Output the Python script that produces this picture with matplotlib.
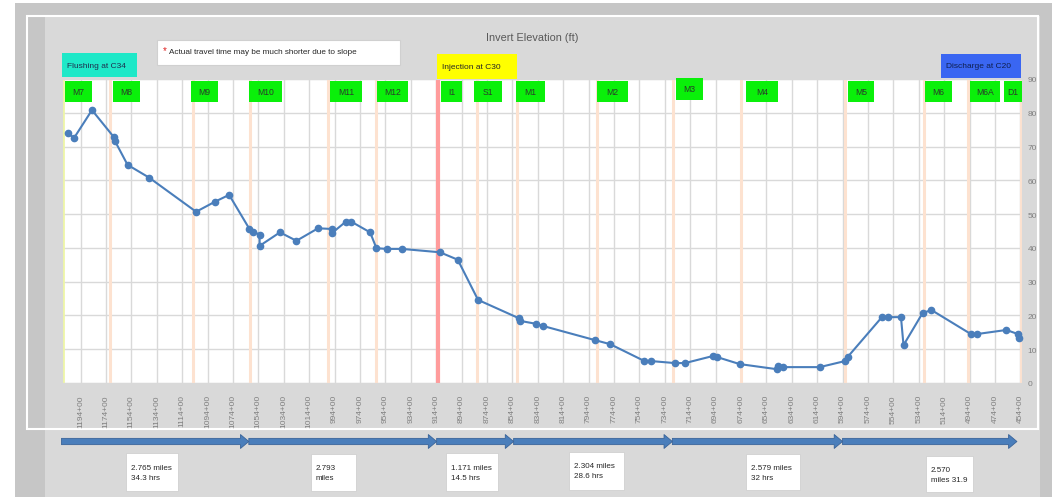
import matplotlib
matplotlib.use("Agg")
import matplotlib.pyplot as plt
import matplotlib.font_manager as fm
from matplotlib.patches import Rectangle, FancyArrowPatch, ArrowStyle
from matplotlib.transforms import blended_transform_factory

# ---------------- data ----------------
stations = [1204, 1199, 1185, 1168, 1167, 1157, 1140, 1103, 1088, 1077,
            1061, 1058, 1053, 1053, 1037, 1024, 1007, 996, 996, 985,
            981, 966, 961, 953, 941, 911, 897, 881, 849, 848,
            835, 830, 789, 777, 750, 745, 726, 718, 696, 693,
            675, 646, 645, 641, 612, 592, 590, 563, 558, 548,
            546, 531, 524, 493, 488, 465, 456, 455]
elevation = [73.9, 72.6, 80.8, 72.9, 71.7, 64.6, 60.8, 50.7, 53.7, 55.7,
             45.6, 44.8, 43.9, 40.6, 44.6, 42.1, 45.8, 45.6, 44.4, 47.8,
             47.8, 44.6, 39.9, 39.7, 39.7, 38.7, 36.5, 24.6, 19.2, 18.4,
             17.5, 16.9, 12.7, 11.5, 6.5, 6.5, 5.9, 5.9, 8.0, 7.7,
             5.6, 4.1, 5.0, 4.7, 4.7, 6.5, 7.7, 19.5, 19.5, 19.5,
             11.2, 20.7, 21.6, 14.5, 14.5, 15.7, 14.5, 13.3]

tick_stations = list(range(1194, 453, -20))
tick_labels = [f"{s}+00" for s in tick_stations]
y_ticks = list(range(0, 91, 10))

marker_names = ["M7", "M8", "M9", "M10", "M11", "M12", "I1", "S1", "M1", "M2",
                "M3", "M4", "M5", "M6", "M6A", "D1"]
marker_stations = [1207.5, 1170.8, 1105.8, 1060.2, 999.1, 961.1, 912.6, 882.2, 850.7, 787.0,
                   727.5, 674.0, 592.0, 530.0, 494.9, 453.5]

segment_bounds = [1209, 1061.5, 913.6, 853, 728, 594, 456.7]
segment_texts = ["2.765 miles\n34.3 hrs", "2.793\nmiles", "1.171 miles\n14.5 hrs",
                 "2.304 miles\n28.6 hrs", "2.579 miles\n32 hrs", "2.570\nmiles 31.9"]

title_text = "Invert Elevation (ft)"
note_text = "Actual travel time may be much shorter due to slope"
flush_text = "Flushing at C34"
inject_text = "Injection at C30"
discharge_text = "Discharge at C20"

# ---------------- layout ----------------
W, H = 1056, 502


def pick(*names):
    for n in names:
        try:
            fm.findfont(fm.FontProperties(family=n), fallback_to_default=False)
            return n
        except Exception:
            pass
    return "DejaVu Sans"


FONT = pick("Liberation Sans Narrow", "Liberation Sans")
plt.rcParams["font.family"] = [FONT, "DejaVu Sans"]

fig = plt.figure(figsize=(W / 100, H / 100), dpi=100)
fig.patch.set_facecolor("white")


def fx(x):
    return x / W


def fy(y):
    return 1 - y / H


def prect(x0, y0, x1, y1, **kw):
    r = Rectangle((fx(x0), fy(y1)), (x1 - x0) / W, (y1 - y0) / H,
                  transform=fig.transFigure, **kw)
    fig.add_artist(r)
    return r


# background panels
prect(15, 4, 1052, 498, facecolor="#c6c6c6", edgecolor="none", zorder=-10)
prect(45, 17, 1040, 498, facecolor="#d9d9d9", edgecolor="none", zorder=-9)
prect(27, 17, 1038, 430, facecolor="none", edgecolor="white", lw=1.5, zorder=-8)

# main axes
ax = fig.add_axes([62 / W, 1 - 384 / H, 960 / W, 304 / H])
ax.set_facecolor("white")
ax.set_xlim(1208.6, 452.7)
ax.set_ylim(0, 90)
ax.set_xticks(tick_stations)
ax.set_xticklabels(tick_labels, rotation=90, fontsize=6, color="#808080")
ax.set_yticks(y_ticks)
ax.yaxis.tick_right()
ax.tick_params(axis="y", labelsize=6, colors="#808080", length=0, pad=4)
ax.tick_params(axis="x", length=0, pad=8)
ax.grid(True, color="#d9d9d9", lw=1)
ax.set_axisbelow(True)
for s in ax.spines.values():
    s.set_color("#d9d9d9")

# marker lines
for name, st in zip(marker_names, marker_stations):
    if name == "I1":
        ax.axvline(st, color="#ff9c9c", lw=3, zorder=2)
    elif name == "M7":
        ax.axvline(st, color="#eef5a8", lw=2, zorder=2)
    else:
        ax.axvline(st, color="#fde2d0", lw=2.2, zorder=2)

ax.plot(stations, elevation, color="#4a7ebb", lw=1.5, marker="o", ms=4.5,
        zorder=5, clip_on=False)

# green marker labels (pixel layout)
green_boxes = [(65, 92), (113, 140), (191, 218), (249, 282), (330, 362), (377, 408),
               (441, 462), (474, 502), (516, 545), (597, 628), (676, 703), (746, 778),
               (848, 874), (925, 952), (970, 1000), (1004, 1022)]
for name, (x0, x1) in zip(marker_names, green_boxes):
    y0, y1 = (79, 101) if name == "M3" else (82, 103)
    prect(x0, y0, x1, y1, facecolor="#0af00a", edgecolor="none", zorder=3)
    fig.text(fx((x0 + x1) / 2), fy((y0 + y1) / 2), name, ha="center", va="center",
             fontsize=6.2, color="#2a3a2a", zorder=4)

# title and top boxes
fig.text(fx(532), fy(38), title_text, ha="center", va="center", fontsize=7.8,
         color="#595959")

prect(62, 54, 137, 78, facecolor="#1ee8c8", edgecolor="none", zorder=3)
fig.text(fx(67), fy(66), flush_text, ha="left", va="center", fontsize=6,
         color="#1f2f4f", zorder=4)

prect(157, 41, 400, 66, facecolor="white", edgecolor="#d0d0d0", lw=0.8, zorder=3)
fig.text(fx(163), fy(51), "*", ha="left", va="center", fontsize=7, color="#e02020", zorder=4)
fig.text(fx(169), fy(52), note_text, ha="left", va="center", fontsize=5.9,
         color="#262626", zorder=4)

prect(437, 55, 517, 80, facecolor="#ffff00", edgecolor="none", zorder=3)
fig.text(fx(442), fy(67.5), inject_text, ha="left", va="center", fontsize=6,
         color="#262626", zorder=4)

prect(941, 55, 1021, 79, facecolor="#3a66f2", edgecolor="none", zorder=3)
fig.text(fx(946), fy(67), discharge_text, ha="left", va="center", fontsize=6,
         color="#0f1f4f", zorder=4)

# travel arrows along stations
bt = blended_transform_factory(ax.transData, fig.transFigure)
style = ArrowStyle.Simple(head_length=6, head_width=10, tail_width=4.5)
for a, b in zip(segment_bounds[:-1], segment_bounds[1:]):
    arr = FancyArrowPatch((a, fy(442.5)), (b, fy(442.5)), arrowstyle=style,
                          mutation_scale=1, transform=bt, shrinkA=0, shrinkB=0,
                          facecolor="#4a7ebb", edgecolor="#3a6499", lw=0.6,
                          clip_on=False, zorder=3)
    fig.add_artist(arr)

text_boxes = [(126, 454, 178, 492), (311, 455, 356, 492), (446, 454, 498, 492),
              (569, 453, 624, 491), (746, 455, 800, 491), (926, 457, 973, 493)]
for txt, (x0, y0, x1, y1) in zip(segment_texts, text_boxes):
    prect(x0, y0, x1, y1, facecolor="white", edgecolor="#d0d0d0", lw=0.6, zorder=3)
    fig.text(fx(x0 + 5), fy((y0 + y1) / 2), txt, ha="left", va="center",
             fontsize=5.8, color="#262626", linespacing=1.6, zorder=4)

fig.savefig("out.png", dpi=100, facecolor=fig.get_facecolor())
